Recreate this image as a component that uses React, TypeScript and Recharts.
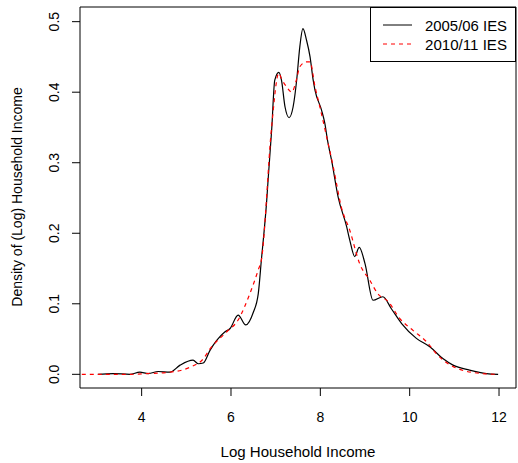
import { LineChart, Line, XAxis, YAxis, ReferenceArea } from "recharts";

// 2005/06 IES density (log household income)
const income0506 = [
  3.02, 3.36, 3.74, 3.96, 4.15, 4.37, 4.63, 4.86, 5.15, 5.27, 5.38, 5.53, 5.68, 5.86,
  5.98, 6.16, 6.33, 6.5, 6.61, 6.68, 6.8, 6.83, 6.91, 6.98, 7.07, 7.13, 7.21, 7.3, 7.39,
  7.47, 7.54, 7.61, 7.69, 7.77, 7.84, 7.88, 8.03, 8.1, 8.16, 8.25, 8.4, 8.59, 8.66, 8.77,
  8.87, 9.0, 9.18, 9.4, 9.59, 9.82, 10.15, 10.45, 10.75, 10.97, 11.34, 11.72, 11.98,
];
const density0506 = [
  0.0, 0.001, 0.0, 0.003, 0.001, 0.004, 0.003, 0.013, 0.02, 0.015, 0.016, 0.034, 0.048,
  0.06, 0.065, 0.084, 0.07, 0.088, 0.114, 0.162, 0.247, 0.275, 0.346, 0.417, 0.428,
  0.417, 0.379, 0.364, 0.379, 0.417, 0.464, 0.49, 0.474, 0.45, 0.417, 0.403, 0.374,
  0.356, 0.332, 0.304, 0.251, 0.209, 0.19, 0.167, 0.18, 0.157, 0.105, 0.11, 0.093,
  0.072, 0.051, 0.039, 0.022, 0.013, 0.006, 0.001, 0.0,
];

// 2010/11 IES density
const income1011 = [
  2.66, 3.74, 4.11, 4.63, 5.08, 5.38, 5.53, 5.9, 6.16, 6.42, 6.61, 6.68, 6.91, 7.07,
  7.13, 7.24, 7.36, 7.47, 7.54, 7.69, 7.77, 7.88, 7.99, 8.14, 8.29, 8.47, 8.66, 8.88,
  9.11, 9.29, 9.52, 9.78, 10.08, 10.38, 10.6, 10.86, 11.12, 11.64, 11.97,
];
const density1011 = [
  0.0, 0.0, 0.001, 0.003, 0.01, 0.022, 0.036, 0.06, 0.077, 0.114, 0.148, 0.162, 0.351,
  0.427, 0.419, 0.408, 0.4, 0.419, 0.436, 0.443, 0.443, 0.408, 0.379, 0.337, 0.294,
  0.237, 0.204, 0.157, 0.133, 0.114, 0.103, 0.079, 0.062, 0.046, 0.029, 0.015, 0.007,
  0.001, 0.0,
];

const xTicks = [4, 6, 8, 10, 12];
const yTicks = [0, 0.1, 0.2, 0.3, 0.4, 0.5];
const seriesNames = ["2005/06 IES", "2010/11 IES"];

const X_DOMAIN: [number, number] = [2.62, 12.38];
const Y_DOMAIN: [number, number] = [-0.0194, 0.5208];
const FONT = "'Liberation Sans', Arial, Helvetica, sans-serif";

const data0506 = income0506.map((x, i) => ({ x, y: density0506[i] }));
const data1011 = income1011.map((x, i) => ({ x, y: density1011[i] }));

const XTick = ({ x, payload }: any) => (
  <text x={x} y={422} textAnchor="middle" fontSize={14} fontFamily={FONT} fill="#000">
    {payload.value}
  </text>
);

const YTick = ({ y, payload }: any) => (
  <text
    x={59}
    y={y}
    transform={`rotate(-90 59 ${y})`}
    textAnchor="middle"
    fontSize={14}
    fontFamily={FONT}
    fill="#000"
  >
    {Number(payload.value).toFixed(1)}
  </text>
);

function LegendBox() {
  return (
    <svg
      width={146}
      height={55}
      style={{ position: "absolute", left: 370, top: 7 }}
    >
      <rect x={0.5} y={0.5} width={145} height={54} fill="#fff" stroke="#000" />
      <line x1={13} x2={42} y1={18} y2={18} stroke="#000" />
      <line x1={13} x2={42} y1={37} y2={37} stroke="#ff0000" strokeDasharray="4 4" />
      <text x={55} y={24} fontSize={14} fontFamily={FONT} fill="#000"
        textLength={82} lengthAdjust="spacingAndGlyphs">
        {seriesNames[0]}
      </text>
      <text x={55} y={43} fontSize={14} fontFamily={FONT} fill="#000"
        textLength={82} lengthAdjust="spacingAndGlyphs">
        {seriesNames[1]}
      </text>
    </svg>
  );
}

export default function App() {
  return (
    <div
      style={{
        position: "absolute",
        left: 0,
        top: 0,
        width: 518,
        height: 463,
        background: "#fff",
        fontFamily: FONT,
      }}
    >
      <LineChart
        width={518}
        height={463}
        margin={{ top: 7, right: 2, left: 0, bottom: 0 }}
      >
        <XAxis
          dataKey="x"
          type="number"
          domain={X_DOMAIN}
          ticks={xTicks}
          allowDataOverflow
          axisLine={false}
          tickSize={8}
          tickLine={{ stroke: "#000" }}
          tick={<XTick />}
          height={75}
          label={{
            content: () => (
              <text x={298} y={457} textAnchor="middle" fontSize={14} fontFamily={FONT}
                fill="#000" textLength={155} lengthAdjust="spacingAndGlyphs">
                Log Household Income
              </text>
            ),
          }}
        />
        <YAxis
          type="number"
          domain={Y_DOMAIN}
          ticks={yTicks}
          allowDataOverflow
          axisLine={false}
          tickSize={8}
          tickLine={{ stroke: "#000" }}
          tick={<YTick />}
          width={80}
          label={{
            content: () => (
              <text
                x={22}
                y={197}
                transform="rotate(-90 22 197)"
                textAnchor="middle"
                fontSize={14}
                fontFamily={FONT}
                fill="#000"
              >
                Density of (Log) Household Income
              </text>
            ),
          }}
        />
        <ReferenceArea
          x1={X_DOMAIN[0]}
          x2={X_DOMAIN[1]}
          y1={Y_DOMAIN[0]}
          y2={Y_DOMAIN[1]}
          fill="none"
          stroke="#000"
          ifOverflow="visible"
        />
        <Line
          data={data0506}
          dataKey="y"
          name={seriesNames[0]}
          type="monotone"
          stroke="#000"
          strokeWidth={1.2}
          dot={false}
          isAnimationActive={false}
        />
        <Line
          data={data1011}
          dataKey="y"
          name={seriesNames[1]}
          type="monotone"
          stroke="#ff0000"
          strokeWidth={1.2}
          strokeDasharray="4 4"
          dot={false}
          isAnimationActive={false}
        />
      </LineChart>
      <LegendBox />
    </div>
  );
}
